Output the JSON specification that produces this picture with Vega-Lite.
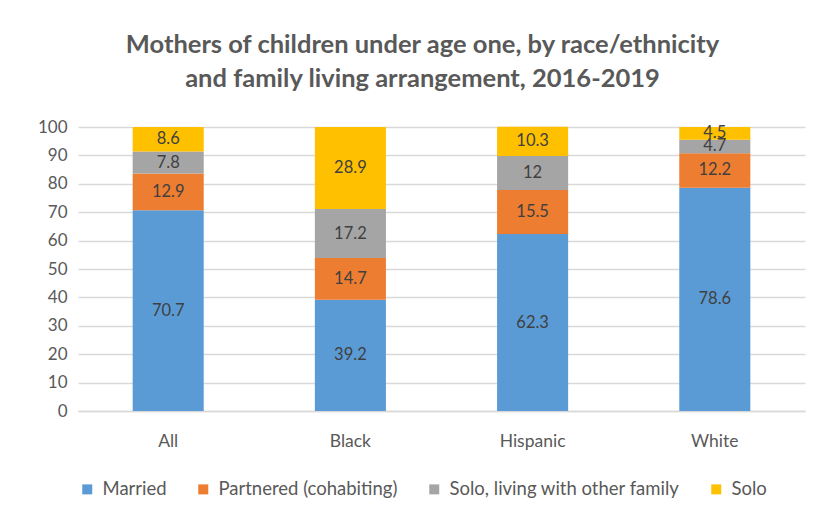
{
  "$schema": "https://vega.github.io/schema/vega-lite/v6.json",
  "width": 727,
  "height": 284,
  "autosize": {"type": "none"},
  "padding": {"left": 78, "top": 127, "right": 12, "bottom": 112},
  "background": "white",
  "config": {"font": "Lato", "view": {"stroke": null}},
  "title": {
    "text": ["Mothers of children under age one, by race/ethnicity", "and family living arrangement, 2016-2019"],
    "fontSize": 25.5,
    "font": "Lato",
    "fontWeight": "bold",
    "color": "#595959",
    "anchor": "middle",
    "offset": 26,
    "lineHeight": 34,
    "dx": -19
  },
  "data": {
    "values": [
      {"group": "All", "cat": "Married", "k": 1, "value": 70.7},
      {"group": "All", "cat": "Partnered (cohabiting)", "k": 2, "value": 12.9},
      {"group": "All", "cat": "Solo, living with other family", "k": 3, "value": 7.8},
      {"group": "All", "cat": "Solo", "k": 4, "value": 8.6},
      {"group": "Black", "cat": "Married", "k": 1, "value": 39.2},
      {"group": "Black", "cat": "Partnered (cohabiting)", "k": 2, "value": 14.7},
      {"group": "Black", "cat": "Solo, living with other family", "k": 3, "value": 17.2},
      {"group": "Black", "cat": "Solo", "k": 4, "value": 28.9},
      {"group": "Hispanic", "cat": "Married", "k": 1, "value": 62.3},
      {"group": "Hispanic", "cat": "Partnered (cohabiting)", "k": 2, "value": 15.5},
      {"group": "Hispanic", "cat": "Solo, living with other family", "k": 3, "value": 12},
      {"group": "Hispanic", "cat": "Solo", "k": 4, "value": 10.3},
      {"group": "White", "cat": "Married", "k": 1, "value": 78.6},
      {"group": "White", "cat": "Partnered (cohabiting)", "k": 2, "value": 12.2},
      {"group": "White", "cat": "Solo, living with other family", "k": 3, "value": 4.7},
      {"group": "White", "cat": "Solo", "k": 4, "value": 4.5}
    ]
  },
  "encoding": {
    "x": {
      "field": "group",
      "type": "nominal",
      "sort": ["All", "Black", "Hispanic", "White"],
      "scale": {"paddingInner": 0.61, "paddingOuter": 0.3},
      "axis": {
        "title": null,
        "labelAngle": 0,
        "labelFontSize": 17.5,
        "labelColor": "#595959",
        "labelPadding": 21,
        "ticks": false,
        "domainColor": "#D9D9D9",
        "domainWidth": 1.5
      }
    },
    "y": {
      "field": "value",
      "type": "quantitative",
      "stack": "zero",
      "scale": {"domain": [0, 100], "nice": false},
      "axis": {
        "title": null,
        "values": [0, 10, 20, 30, 40, 50, 60, 70, 80, 90, 100],
        "labelFontSize": 17,
        "labelColor": "#595959",
        "labelPadding": 11,
        "ticks": false,
        "domain": false,
        "gridColor": "#D9D9D9",
        "gridWidth": 1.5
      }
    },
    "order": {"field": "k", "type": "quantitative"}
  },
  "layer": [
    {
      "mark": {"type": "bar"},
      "encoding": {
        "color": {
          "field": "cat",
          "type": "nominal",
          "sort": ["Married", "Partnered (cohabiting)", "Solo, living with other family", "Solo"],
          "scale": {
            "domain": ["Married", "Partnered (cohabiting)", "Solo, living with other family", "Solo"],
            "range": ["#5B9BD5", "#ED7D31", "#A5A5A5", "#FFC000"]
          },
          "legend": {
            "title": null,
            "orient": "bottom",
            "direction": "horizontal",
            "symbolType": "square",
            "symbolSize": 100,
            "symbolStrokeWidth": 0,
            "labelFontSize": 18.5,
            "labelColor": "#595959",
            "labelOffset": 6,
            "columnPadding": 27,
            "offset": 30,
            "labelLimit": 400
          }
        }
      }
    },
    {
      "mark": {"type": "text", "fontSize": 16.5, "color": "#404040", "baseline": "middle"},
      "encoding": {
        "y": {"field": "value", "type": "quantitative", "stack": "zero", "bandPosition": 0.5},
        "detail": {"field": "cat"},
        "text": {"field": "value", "type": "quantitative"}
      }
    }
  ]
}
